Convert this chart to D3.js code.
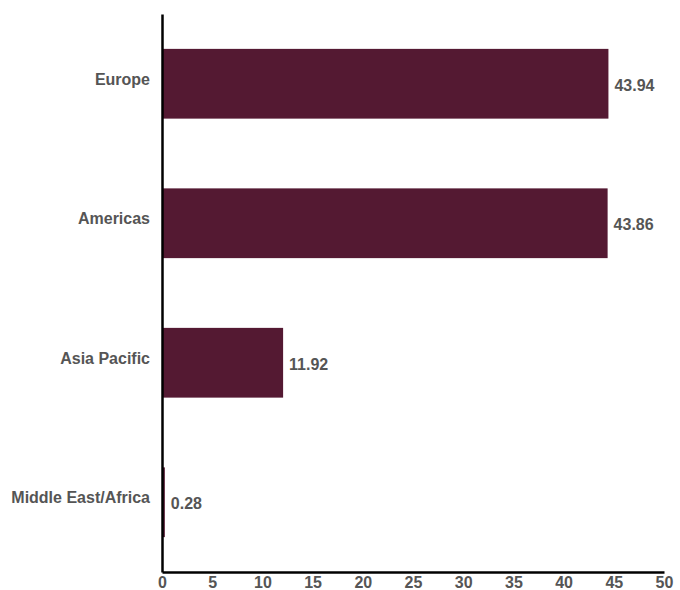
<!DOCTYPE html>
<html>
<head>
<meta charset="utf-8">
<script src="https://cdn.jsdelivr.net/npm/d3@7"></script>
<style>
  body { margin: 0; background: #fff; }
  text { font-family: "Liberation Sans", Arial, sans-serif; font-weight: bold; fill: #555; }
</style>
</head>
<body>
<div id="chart"></div>
<script>
const svgWidth = 680
const svgHeight = 590

const regions = ["Europe", "Americas", "Asia Pacific", "Middle East/Africa"]
const shares = [43.94, 43.86, 11.92, 0.28]
const xTicks = [0, 5, 10, 15, 20, 25, 30, 35, 40, 45, 50]

let margin = { top: 14, right: 15, bottom: 18, left: 162 }
let width = svgWidth - margin.left - margin.right
let height = svgHeight - margin.top - margin.bottom

let svg = d3.select("#chart")
  .append("svg")
  .attr("width", svgWidth)
  .attr("height", svgHeight)

let chartGroup = svg.append("g")
  .attr("transform", `translate(${margin.left}, ${margin.top})`)

// tick scale and a slightly stretched bar scale (bars in the original overshoot the ticks a little)
let x = d3.scaleLinear().domain([0, 50]).range([0, 502])
let xBar = d3.scaleLinear().domain([0, 50]).range([0, 508])
let y = d3.scaleBand().domain(regions).range([0, height]).paddingInner(0.5).paddingOuter(0.25)

let data = regions.map((r, i) => ({ region: r, value: shares[i] }))

chartGroup.selectAll("rect")
  .data(data)
  .enter()
  .append("rect")
  .attr("x", 0)
  .attr("y", d => y(d.region))
  .attr("width", d => xBar(d.value))
  .attr("height", y.bandwidth())
  .attr("fill", "#541932")

chartGroup.selectAll(".val")
  .data(data)
  .enter()
  .append("text")
  .attr("class", "val")
  .attr("x", d => xBar(d.value) + 6)
  .attr("y", d => y(d.region) + y.bandwidth() / 2)
  .attr("dy", "0.44em")
  .style("font-size", "16px")
  .text(d => d.value.toFixed(2))

// axes
let xAxis = chartGroup.append("g")
  .attr("transform", `translate(0, ${height})`)
  .call(d3.axisBottom(x).tickValues(xTicks).tickSize(0).tickPadding(5))
xAxis.select(".domain").attr("stroke", "#000").attr("stroke-width", 2.5)
xAxis.selectAll("text").style("font-size", "16px").attr("fill", "#555")

let yAxis = chartGroup.append("g")
  .call(d3.axisLeft(y).tickSize(0).tickPadding(12))
yAxis.select(".domain").attr("stroke", "#000").attr("stroke-width", 2.5)
yAxis.selectAll("text").style("font-size", "16px").attr("fill", "#555").attr("dy", "0.05em")
</script>
</body>
</html>
